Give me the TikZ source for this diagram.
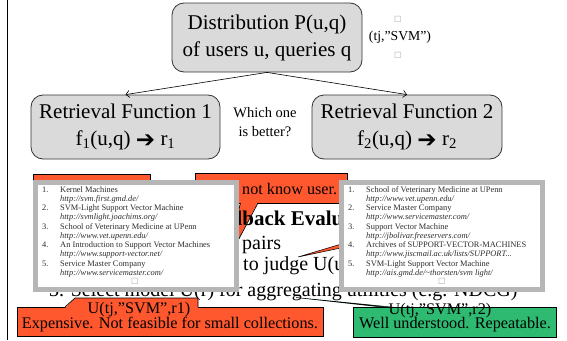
\documentclass[tikz,border=0pt]{standalone}
\usepackage{fontspec}
\setmainfont{Liberation Serif}
\newfontfamily\symfont{DejaVu Sans}
\usetikzlibrary{arrows.meta}

\definecolor{boxgray}{RGB}{218,218,218}
\definecolor{callorange}{RGB}{255,88,46}
\definecolor{callgreen}{RGB}{46,186,112}
\definecolor{popgray}{RGB}{182,182,182}
\definecolor{poptext}{RGB}{45,45,45}

% one row of a result list: number, title, url
\newcommand\hitrow[6]{%
  \node[popnum] (#1n) at (#2,#3) {#4.};
  \node[poptitle] (#1t) at (#2+18,#3) {#5};
  \node[popurl] (#1u) at (#2+18,#3+9.2) {#6};
}
% heavy arrow between f(u,q) and r
\newcommand\maparrow{{\symfont\fontsize{23}{20}\selectfont\raisebox{-1.5pt}{➔}}}

\begin{document}
\begin{tikzpicture}[x=1pt,y=-1pt,
  fnbox/.style={draw=black!80, line width=0.8pt, fill=boxgray, rounded corners=12pt,
    align=center, inner sep=0pt, font=\fontsize{21}{27}\selectfont},
  arr/.style={line width=0.6pt, -{Straight Barb[length=3.5pt,width=7pt]}},
  ocall/.style={draw=black, line width=0.7pt, fill=callorange, inner sep=0pt},
  gcall/.style={draw=black, line width=0.7pt, fill=callgreen, inner sep=0pt},
  calltext/.style={anchor=base, inner sep=0pt, font=\fontsize{16.2}{18}\selectfont},
  bodytext/.style={anchor=base west, inner sep=0pt, font=\fontsize{20}{24}\selectfont},
  popup/.style={draw=popgray, line width=5pt, fill=white, inner sep=0pt},
  popnum/.style={anchor=base west, inner sep=0pt, text=poptext, font=\fontsize{8.4}{9}\selectfont},
  poptitle/.style={anchor=base west, inner sep=0pt, text=poptext, font=\fontsize{8.4}{9}\selectfont},
  popurl/.style={anchor=base west, inner sep=0pt, text=poptext, font=\fontsize{8.4}{9}\selectfont\itshape},
  miss/.style={inner sep=0pt, text=black!35, font=\symfont\fontsize{8}{8}\selectfont},
]
\useasboundingbox (0,0) rectangle (567,340);

% left margin rule
\draw[line width=0.8pt] (7,0) -- (7,340);

% distribution and the two retrieval functions
\node[fnbox, minimum width=190pt, minimum height=69pt] (dist) at (267,37.5)
  {Distribution P(u,q)\\of users u, queries q};
\node[fnbox, minimum width=189pt, minimum height=64pt] (rf1) at (125.5,127)
  {Retrieval Function 1\\f\textsubscript{1}(u,q) \maparrow{} r\textsubscript{1}};
\node[fnbox, minimum width=190pt, minimum height=64pt] (rf2) at (407,127)
  {Retrieval Function 2\\f\textsubscript{2}(u,q) \maparrow{} r\textsubscript{2}};
\draw[arr] (dist.south) -- (rf1.north);
\draw[arr] (dist.south) -- (rf2.north);

\node[align=center, inner sep=0pt, font=\fontsize{14.5}{19}\selectfont] (which) at (265,122)
  {Which one\\is better?};

\node[miss] (m1) at (398,19) {□};
\node[inner sep=0pt, font=\fontsize{13.7}{15}\selectfont] (pair) at (400,37) {(tj,”SVM”)};
\node[miss] (m2) at (398,55) {□};

% upper callouts
\node[ocall, minimum width=117pt, minimum height=32pt] (ocl) at (91.5,190) {};
\node[ocall, minimum width=152pt, minimum height=30pt] (know) at (271,188) {};
\fill[callorange] (240.5,202) -- (258,202) -- (225,265) -- cycle;
\draw[line width=0.7pt] (240.5,203) -- (225,265) -- (258,203);
\node[calltext] (knowt) at (271,194) {Does not know user.};

% slide body
\node[bodytext, font=\fontsize{21}{24}\selectfont\bfseries] (head) at (199,225) {Feedback Evaluation};
\node[bodytext] (l1) at (242,249) {pairs};
\node[bodytext] (l2) at (243,270) {to judge U(u,q,r)};
\node[bodytext] (l3) at (49,296) {3. Select model U(r) for aggregating utilities (e.g. NDCG)};

% thin pointer reaching under the right result list
\filldraw[fill=callorange, draw=black, line width=0.5pt] (298,257) -- (348,242) -- (348,246.5) -- cycle;

% result lists
\node[popup, minimum width=201pt, minimum height=107pt] (pop1) at (136,236) {};
\node[popup, minimum width=201pt, minimum height=107pt] (pop2) at (442,236) {};

\hitrow{a1}{42}{192}{1}{Kernel Machines}{http://svm.first.gmd.de/}
\hitrow{a2}{42}{210.5}{2}{SVM-Light Support Vector Machine}{http://svmlight.joachims.org/}
\hitrow{a3}{42}{229}{3}{School of Veterinary Medicine at UPenn}{http://www.vet.upenn.edu/}
\hitrow{a4}{42}{247.5}{4}{An Introduction to Support Vector Machines}{http://www.support-vector.net/}
\hitrow{a5}{42}{266}{5}{Service Master Company}{http://www.servicemaster.com/}
\node[miss] (m3) at (135,281) {□};

\hitrow{b1}{348}{192}{1}{School of Veterinary Medicine at UPenn}{http://www.vet.upenn.edu/}
\hitrow{b2}{348}{210.5}{2}{Service Master Company}{http://www.servicemaster.com/}
\hitrow{b3}{348}{229}{3}{Support Vector Machine}{http://jbolivar.freeservers.com/}
\hitrow{b4}{348}{247.5}{4}{Archives of SUPPORT-VECTOR-MACHINES}{http://www.jiscmail.ac.uk/lists/SUPPORT...}
\hitrow{b5}{348}{266}{5}{SVM-Light Support Vector Machine}{http://ais.gmd.de/\textasciitilde thorsten/svm light/}
\node[miss] (m4) at (442,281) {□};

% lower callouts
\node[ocall, minimum width=306pt, minimum height=29pt] (exp) at (170,321.5) {};
\fill[callorange] (65,308) -- (75,298) -- (198,298) -- (198,308) -- cycle;
\draw[line width=0.7pt] (65,307) -- (75,298) -- (198,298) -- (198,307);
\node[calltext] (expt) at (170,328) {Expensive. Not feasible for small collections.};
\node[calltext] (u1) at (139,313) {U(tj,”SVM”,r1)};

\filldraw[fill=callgreen, draw=black, line width=0.5pt] (296,297.5) -- (386,307.5) -- (396,307.5) -- cycle;
\node[gcall, minimum width=203pt, minimum height=30pt] (well) at (454.5,322) {};
\node[calltext] (wellt) at (455,328) {Well understood. Repeatable.};
\node[calltext] (u2) at (440,314) {U(tj,”SVM”,r2)};
\end{tikzpicture}
\end{document}
